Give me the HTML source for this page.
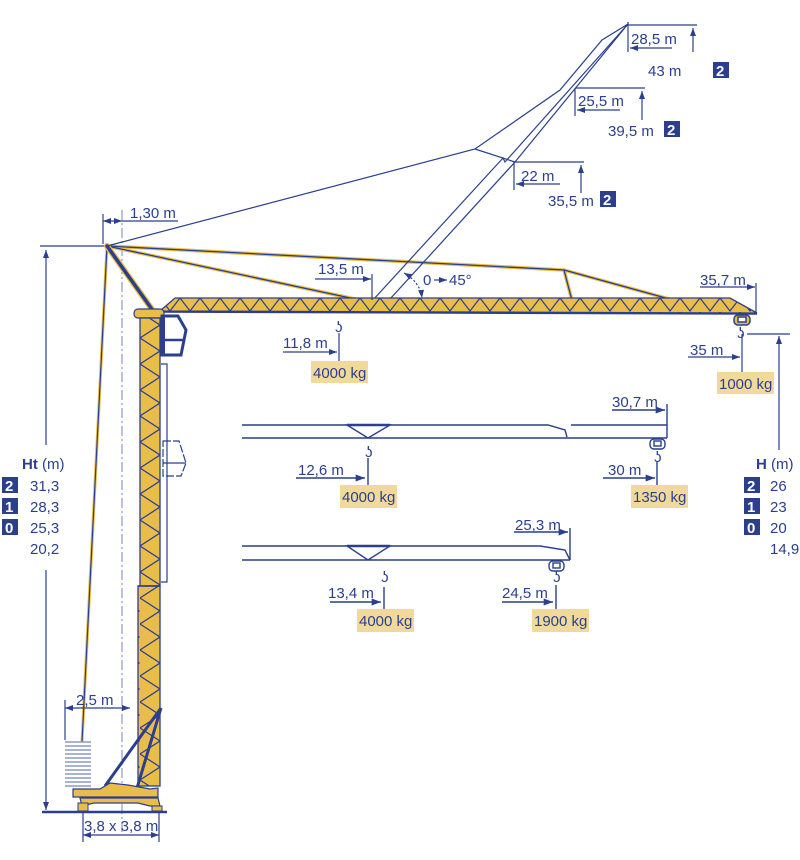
<!DOCTYPE html>
<html><head><meta charset="utf-8"><style>
html,body{margin:0;padding:0;background:#fff;}
svg{display:block;}
text{font-family:"Liberation Sans",sans-serif;fill:#2b3f8c;font-size:15px;}
</style></head><body>
<svg width="800" height="860" viewBox="0 0 800 860" xmlns="http://www.w3.org/2000/svg">
<defs>
<pattern id="jt" x="0" y="298" width="20" height="14" patternUnits="userSpaceOnUse">
<rect width="20" height="14" fill="#e8bd4a"/>
<polyline points="0,0 10,13 20,0" fill="none" stroke="#2b3f8c" stroke-width="1.2"/>
</pattern>
<pattern id="tw" x="140" y="0" width="21" height="26" patternUnits="userSpaceOnUse">
<rect width="21" height="26" fill="#e8bd4a"/>
<polyline points="0,0 20,13 0,26" fill="none" stroke="#2b3f8c" stroke-width="1.2"/>
</pattern>
<marker id="ar" viewBox="0 0 8 6" refX="8" refY="3" markerWidth="7" markerHeight="5" orient="auto-start-reverse"><path d="M0,0L8,3L0,6z" fill="#2b3f8c"/></marker>
</defs>
<g stroke="#2b3f8c" fill="none" stroke-width="1.2">
<line x1="122" y1="210" x2="122" y2="835" stroke="#8a9ac8" stroke-dasharray="10,3,2,3"/>
<line x1="40" y1="246" x2="106" y2="246"/>
<line x1="46" y1="250" x2="46" y2="445" marker-start="url(#ar)"/>
<line x1="46" y1="570" x2="46" y2="810" marker-end="url(#ar)"/>
<line x1="103" y1="214" x2="103" y2="244"/>
<line x1="103" y1="221" x2="122" y2="221" marker-start="url(#ar)" marker-end="url(#ar)"/>
<line x1="122" y1="221" x2="178" y2="221"/>
</g>
<text x="130" y="218">1,30 m</text>

<line x1="107" y1="246" x2="82" y2="742" stroke="#e8bd4a" stroke-width="3"/>
<line x1="107" y1="246" x2="82" y2="742" stroke="#2b3f8c" stroke-width="1.2"/>
<g stroke-linecap="round">
<polyline points="107,246 564,270 575,312" fill="none" stroke="#e8bd4a" stroke-width="3.5"/>
<polyline points="564,270 673,300" fill="none" stroke="#e8bd4a" stroke-width="3.5"/>
<line x1="107" y1="246" x2="355" y2="299" stroke="#e8bd4a" stroke-width="3.5"/>
<polyline points="107,246 564,270 575,312" fill="none" stroke="#2b3f8c" stroke-width="1.3"/>
<polyline points="564,270 673,300" fill="none" stroke="#2b3f8c" stroke-width="1.3"/>
<line x1="107" y1="246" x2="355" y2="299" stroke="#2b3f8c" stroke-width="1.3"/>
<line x1="107" y1="246" x2="161" y2="322" stroke="#e8bd4a" stroke-width="6"/>
<line x1="107" y1="246" x2="161" y2="322" stroke="#2b3f8c" stroke-width="3.5"/>
</g>
<polyline points="107,246 475,149 560,90 602,40 628,24" fill="none" stroke="#2b3f8c" stroke-width="1.2"/>
<line x1="475" y1="149" x2="515" y2="162" stroke="#2b3f8c" stroke-width="1.2"/>
<polyline points="373,300 503,158 505,162 628,24" fill="none" stroke="#2b3f8c" stroke-width="1.2"/>
<polyline points="380,310 515,162 628,24" fill="none" stroke="#2b3f8c" stroke-width="1.2"/>

<polygon points="160,311 175,298 730,298 757,313" fill="url(#jt)" stroke="#2b3f8c" stroke-width="1.3"/>
<line x1="160" y1="312" x2="757" y2="314" stroke="#2b3f8c" stroke-width="1.6"/>
<rect x="134" y="309" width="30" height="9" rx="4" fill="#e8bd4a" stroke="#2b3f8c" stroke-width="1.2"/>
<rect x="140" y="318" width="20" height="268" fill="url(#tw)" stroke="#2b3f8c" stroke-width="1.3"/>
<rect x="138" y="586" width="22" height="200" fill="url(#tw)" stroke="#2b3f8c" stroke-width="1.3"/>
<line x1="138" y1="586" x2="160" y2="586" stroke="#2b3f8c" stroke-width="1.5"/>
<line x1="105" y1="786" x2="161" y2="708" stroke="#2b3f8c" stroke-width="3"/>
<line x1="137" y1="788" x2="161" y2="708" stroke="#2b3f8c" stroke-width="3"/>
<g stroke="#8a9ac8" stroke-width="1.5">
<line x1="65" y1="742" x2="91" y2="742"/><line x1="65" y1="746" x2="91" y2="746"/><line x1="65" y1="750" x2="91" y2="750"/><line x1="65" y1="754" x2="91" y2="754"/><line x1="65" y1="758" x2="91" y2="758"/><line x1="65" y1="762" x2="91" y2="762"/><line x1="65" y1="766" x2="91" y2="766"/><line x1="65" y1="770" x2="91" y2="770"/><line x1="65" y1="774" x2="91" y2="774"/><line x1="65" y1="778" x2="91" y2="778"/><line x1="65" y1="782" x2="91" y2="782"/><line x1="65" y1="786" x2="91" y2="786"/>
</g>
<polygon points="73,789 100,789 110,783 128,785 150,789 158,788 158,797 73,797" fill="#e8bd4a" stroke="#2b3f8c" stroke-width="1.2"/>
<polygon points="80,798 158,798 160,806 150,806 138,803 94,803 82,806" fill="#e8bd4a" stroke="#2b3f8c" stroke-width="1.2"/>
<rect x="78" y="803" width="10" height="8" fill="#e8bd4a" stroke="#2b3f8c" stroke-width="1"/>
<rect x="152" y="806" width="10" height="5" fill="#e8bd4a" stroke="#2b3f8c" stroke-width="1"/>
<line x1="42" y1="812" x2="167" y2="812" stroke="#2b3f8c" stroke-width="2.5"/>
<g stroke="#2b3f8c" stroke-width="1.2" fill="none">
<line x1="83" y1="812" x2="83" y2="842"/><line x1="159" y1="812" x2="159" y2="842"/>
<line x1="83" y1="835" x2="159" y2="835" marker-start="url(#ar)" marker-end="url(#ar)"/>
<line x1="65" y1="700" x2="65" y2="740"/>
<line x1="65" y1="708" x2="130" y2="708" marker-start="url(#ar)" marker-end="url(#ar)"/>
</g>
<text x="84" y="831" font-size="15">3,8 x 3,8 m</text>
<text x="76" y="705">2,5 m</text>

<path d="M162,316 H178 L186,330 L181,355 H162 Z" fill="#fff" stroke="#2b3f8c" stroke-width="3"/>
<line x1="162" y1="340" x2="184" y2="340" stroke="#2b3f8c" stroke-width="2.5"/>
<line x1="163" y1="316" x2="163" y2="356" stroke="#2b3f8c" stroke-width="4"/>
<path d="M163,441 H179 L186,463 L181,476 H163 Z" fill="#fff" stroke="#2b3f8c" stroke-width="1.2" stroke-dasharray="8,2"/>
<line x1="163" y1="463" x2="186" y2="463" stroke="#2b3f8c" stroke-width="1.2"/>
<polyline points="161,364 167,364 167,582 161,582" fill="none" stroke="#2b3f8c" stroke-width="1.2"/>

<g stroke="#2b3f8c" stroke-width="1.5" fill="#e8bd4a">
<rect x="734" y="315" width="16" height="10" rx="4"/>
<rect x="738" y="317" width="8" height="5" fill="#fff"/>
</g>
<text x="737" y="338" font-size="11">ʖ</text>
<g stroke="#2b3f8c" stroke-width="1.2" fill="none">
<line x1="315" y1="279" x2="371" y2="279" marker-end="url(#ar)"/><line x1="372" y1="274" x2="372" y2="300"/>
<line x1="700" y1="287" x2="755" y2="287" marker-end="url(#ar)"/><line x1="756" y1="283" x2="756" y2="314"/>
<line x1="283" y1="352" x2="337" y2="352" marker-end="url(#ar)"/><line x1="339" y1="333" x2="339" y2="362"/>
<line x1="688" y1="357" x2="740" y2="357" marker-end="url(#ar)"/><line x1="742" y1="334" x2="742" y2="372"/>
<line x1="747" y1="334" x2="790" y2="334"/>
<line x1="779" y1="450" x2="779" y2="336" marker-end="url(#ar)"/>
<path d="M404,273 Q420,282 422,298" stroke-dasharray="2,2" marker-start="url(#ar)" marker-end="url(#ar)"/>
<line x1="434" y1="280" x2="447" y2="280" marker-end="url(#ar)"/>
<line x1="628" y1="25" x2="697" y2="25"/><line x1="628" y1="22" x2="628" y2="52"/>
<line x1="672" y1="48" x2="630" y2="48" marker-end="url(#ar)"/>
<line x1="693" y1="52" x2="693" y2="28" marker-end="url(#ar)"/>
<line x1="575" y1="88" x2="645" y2="88"/><line x1="575" y1="88" x2="575" y2="116"/>
<line x1="620" y1="110" x2="577" y2="110" marker-end="url(#ar)"/>
<line x1="642" y1="120" x2="642" y2="91" marker-end="url(#ar)"/>
<line x1="514" y1="162" x2="584" y2="162"/><line x1="514" y1="162" x2="514" y2="190"/>
<line x1="560" y1="184" x2="516" y2="184" marker-end="url(#ar)"/>
<line x1="581" y1="193" x2="581" y2="165" marker-end="url(#ar)"/>
</g>
<text x="318" y="274">13,5 m</text>
<text x="423" y="285">0</text><text x="449" y="285">45°</text>
<text x="700" y="285">35,7 m</text>
<text x="283" y="348">11,8 m</text>
<text x="335" y="332" font-size="11">ʖ</text>
<text x="690" y="355">35 m</text>
<text x="631" y="44">28,5 m</text>
<text x="648" y="76">43 m</text>
<rect x="713" y="62" width="16" height="16" fill="#2b3f8c"/><text x="716" y="76" style="fill:#fff;font-weight:bold">2</text>
<text x="578" y="106">25,5 m</text>
<text x="608" y="136">39,5 m</text>
<rect x="664" y="121" width="16" height="16" fill="#2b3f8c"/><text x="667" y="135" style="fill:#fff;font-weight:bold">2</text>
<text x="521" y="181">22 m</text>
<text x="548" y="206">35,5 m</text>
<rect x="600" y="191" width="16" height="16" fill="#2b3f8c"/><text x="603" y="205" style="fill:#fff;font-weight:bold">2</text>

<rect x="311" y="361" width="57" height="22" fill="#f1d99c"/><text x="313" y="378">4000 kg</text>
<rect x="717" y="372" width="57" height="22" fill="#f1d99c"/><text x="719" y="389">1000 kg</text>

<g stroke="#2b3f8c" stroke-width="1.4" fill="none">
<polyline points="242,425 548,425 565,430 567,437"/>
<polyline points="571,425 667,425 667,438"/>
<line x1="242" y1="438" x2="667" y2="438"/>
<polygon points="347,425 390,425 368,438" fill="#fff"/>
<line x1="347" y1="425" x2="390" y2="425" stroke-width="2.5"/>
<polyline points="242,546 540,546 565,550 570,560"/>
<line x1="242" y1="560" x2="570" y2="560"/>
<polygon points="347,546 390,546 368,560" fill="#fff"/>
<line x1="347" y1="546" x2="390" y2="546" stroke-width="2.5"/>
<rect x="650" y="439" width="15" height="10" rx="4"/><rect x="654" y="441" width="7" height="5"/>
<rect x="549" y="561" width="15" height="10" rx="4"/><rect x="553" y="563" width="7" height="5"/>
<line x1="612" y1="410" x2="665" y2="410" marker-end="url(#ar)"/><line x1="667" y1="404" x2="667" y2="425"/>
<line x1="296" y1="478" x2="365" y2="478" marker-end="url(#ar)"/><line x1="368" y1="458" x2="368" y2="488"/>
<line x1="603" y1="478" x2="655" y2="478" marker-end="url(#ar)"/><line x1="657" y1="462" x2="657" y2="490"/>
<line x1="514" y1="532" x2="568" y2="532" marker-end="url(#ar)"/><line x1="570" y1="528" x2="570" y2="560"/>
<line x1="330" y1="602" x2="381" y2="602" marker-end="url(#ar)"/><line x1="384" y1="587" x2="384" y2="612"/>
<line x1="502" y1="602" x2="553" y2="602" marker-end="url(#ar)"/><line x1="556" y1="585" x2="556" y2="615"/>
</g>
<text x="365" y="457" font-size="11">ʖ</text>
<text x="654" y="462" font-size="11">ʖ</text>
<text x="381" y="582" font-size="11">ʖ</text>
<text x="553" y="582" font-size="11">ʖ</text>
<text x="612" y="407">30,7 m</text>
<text x="298" y="475">12,6 m</text>
<text x="608" y="475">30 m</text>
<text x="515" y="530">25,3 m</text>
<text x="328" y="598">13,4 m</text>
<text x="502" y="598">24,5 m</text>
<rect x="340" y="485" width="57" height="23" fill="#f1d99c"/><text x="342" y="502">4000 kg</text>
<rect x="631" y="485" width="57" height="23" fill="#f1d99c"/><text x="633" y="502">1350 kg</text>
<rect x="357" y="609" width="57" height="23" fill="#f1d99c"/><text x="359" y="626">4000 kg</text>
<rect x="532" y="609" width="57" height="23" fill="#f1d99c"/><text x="534" y="626">1900 kg</text>

<text x="22" y="469"><tspan font-weight="bold">Ht</tspan> (m)</text>
<rect x="2" y="477" width="16" height="16" fill="#2b3f8c"/><text x="5" y="491" style="fill:#fff;font-weight:bold">2</text><text x="30" y="491">31,3</text>
<rect x="2" y="498" width="16" height="16" fill="#2b3f8c"/><text x="5" y="512" style="fill:#fff;font-weight:bold">1</text><text x="30" y="512">28,3</text>
<rect x="2" y="519" width="16" height="16" fill="#2b3f8c"/><text x="5" y="533" style="fill:#fff;font-weight:bold">0</text><text x="30" y="533">25,3</text>
<text x="30" y="554">20,2</text>
<text x="756" y="469"><tspan font-weight="bold">H</tspan> (m)</text>
<rect x="744" y="477" width="16" height="16" fill="#2b3f8c"/><text x="747" y="491" style="fill:#fff;font-weight:bold">2</text><text x="770" y="491">26</text>
<rect x="744" y="498" width="16" height="16" fill="#2b3f8c"/><text x="747" y="512" style="fill:#fff;font-weight:bold">1</text><text x="770" y="512">23</text>
<rect x="744" y="519" width="16" height="16" fill="#2b3f8c"/><text x="747" y="533" style="fill:#fff;font-weight:bold">0</text><text x="770" y="533">20</text>
<text x="770" y="554">14,9</text>
</svg>
</body></html>
